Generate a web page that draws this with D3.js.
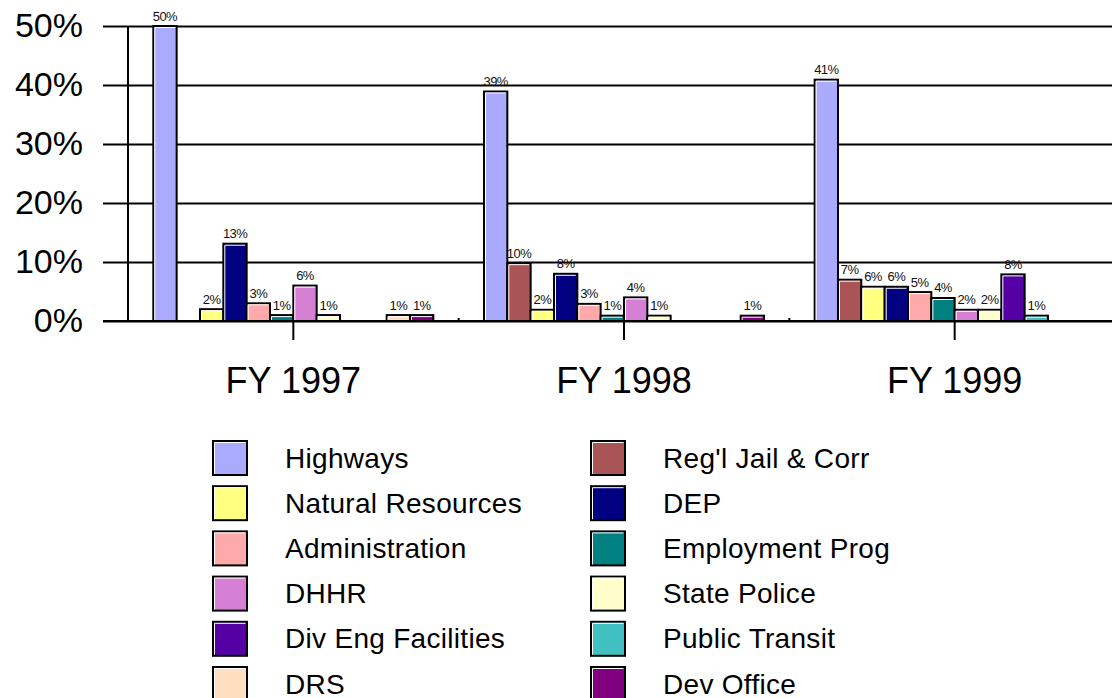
<!DOCTYPE html>
<html>
<head>
<meta charset="utf-8">
<script src="https://d3js.org/d3.v7.min.js"></script>
<style>
  body { margin: 0; background: #fff; }
  svg { display: block; font-family: "Liberation Sans", Arial, sans-serif; }
</style>
</head>
<body>
<svg width="1112" height="698"></svg>
<script>
// categories and series
let years = ["FY 1997", "FY 1998", "FY 1999"];
let series = ["Highways", "Reg'l Jail & Corr", "Natural Resources", "DEP",
              "Administration", "Employment Prog", "DHHR", "State Police",
              "Div Eng Facilities", "Public Transit", "DRS", "Dev Office"];
let colors = ["#aaaaff", "#aa5555", "#ffff80", "#000080",
              "#ffaaaa", "#008080", "#d580d5", "#ffffcc",
              "#5500a5", "#40c0c0", "#ffdfbf", "#800080"];

// share of total (%), one value per series, in series order
let fy1997 = [50, 0, 2, 13.1, 3, 1, 6, 1, 0, 0, 1, 1];
let fy1998 = [38.9, 9.8, 1.9, 8, 2.9, 0.9, 4, 0.9, 0, 0, 0, 0.9];
let fy1999 = [40.9, 7, 5.8, 5.8, 4.9, 3.9, 1.9, 1.9, 7.9, 0.9, 0, 0];
let yTicks = [0, 10, 20, 30, 40, 50];

let byYear = [fy1997, fy1998, fy1999];
let data = years.map((yr, i) => ({
  year: yr,
  bars: series.map((s, j) => ({ name: s, value: byYear[i][j], color: colors[j] }))
}));

let width = 1112;
let height = 698;
let svg = d3.select("svg");

let yScale = d3.scaleLinear()
               .domain([0, 50])
               .range([321, 26]);

let xScale = d3.scaleBand()
               .domain(years)
               .range([128, 1120]);

let x1 = d3.scaleBand()
           .domain(series)
           .range([0, xScale.bandwidth()])
           .paddingOuter(1.085);

// gridlines + y tick labels
let yAxis = svg.append("g")
   .attr("transform", "translate(103,0)")
   .call(d3.axisLeft(yScale)
           .tickValues(yTicks)
           .tickSize(-(width - 103))
           .tickPadding(20)
           .tickFormat(d => d + "%"));
yAxis.select(".domain").remove();
yAxis.selectAll(".tick line").attr("stroke", "#000").attr("stroke-width", 2);
yAxis.selectAll(".tick text")
     .attr("font-size", 34)
     .attr("fill", "#000")
     .attr("font-family", "Liberation Sans, Arial, sans-serif");

// y axis line
svg.append("line")
   .attr("x1", 128).attr("x2", 128)
   .attr("y1", yScale(50)).attr("y2", yScale(0))
   .attr("stroke", "#000").attr("stroke-width", 2);

// x axis
let xAxis = svg.append("g")
   .attr("transform", `translate(0,${yScale(0)})`)
   .call(d3.axisBottom(xScale).tickSize(19).tickPadding(27));
xAxis.select(".domain").remove();
xAxis.selectAll(".tick line").attr("stroke", "#000").attr("stroke-width", 2);
xAxis.selectAll(".tick text")
     .attr("font-size", 36)
     .attr("fill", "#000")
     .attr("font-family", "Liberation Sans, Arial, sans-serif");

// small marks at the group boundaries
svg.selectAll(".sep")
   .data(years.slice(1))
   .enter().append("line")
     .attr("x1", d => xScale(d)).attr("x2", d => xScale(d))
     .attr("y1", yScale(0) - 3).attr("y2", yScale(0))
     .attr("stroke", "#000").attr("stroke-width", 2);

// bars
let groups = svg.selectAll(".grp")
   .data(data)
   .enter().append("g")
     .attr("transform", d => `translate(${xScale(d.year)},0)`);

let bars = groups.selectAll(".bar")
   .data(d => d.bars.filter(b => b.value > 0))
   .enter().append("g");

bars.append("rect")
    .attr("x", d => x1(d.name))
    .attr("y", d => yScale(d.value))
    .attr("width", x1.bandwidth())
    .attr("height", d => yScale(0) - yScale(d.value))
    .attr("fill", d => d.color)
    .attr("stroke", "#000")
    .attr("stroke-width", 2);

// white inner highlight on top and left edges
bars.append("path")
    .attr("d", d => {
      let x = x1(d.name), y = yScale(d.value), h = yScale(0) - y, w = x1.bandwidth();
      return `M${x + 1.5},${y + h - 1}V${y + 1.5}H${x + w - 1.5}`;
    })
    .attr("fill", "none")
    .attr("stroke", "#fff")
    .attr("stroke-width", 1);

bars.append("text")
    .attr("x", d => x1(d.name) + x1.bandwidth() / 2)
    .attr("y", d => yScale(d.value) - 5.5)
    .attr("text-anchor", "middle")
    .attr("font-size", 13)
    .attr("letter-spacing", -0.6)
    .attr("fill", "#111")
    .text(d => Math.round(d.value) + "%");

// x axis line drawn last so it sits on the bar bottoms
svg.append("line")
   .attr("x1", 103).attr("x2", width)
   .attr("y1", yScale(0)).attr("y2", yScale(0))
   .attr("stroke", "#000").attr("stroke-width", 2);

// legend: two columns, row-major order
let legend = svg.selectAll(".leg")
   .data(series)
   .enter().append("g")
     .attr("transform", (d, i) => `translate(${i % 2 ? 590 : 212},${440 + Math.floor(i / 2) * 45.2})`);

legend.append("rect")
      .attr("x", 1).attr("y", 1)
      .attr("width", 34).attr("height", 34)
      .attr("fill", (d, i) => colors[i])
      .attr("stroke", "#000")
      .attr("stroke-width", 2);

legend.append("path")
      .attr("d", "M2.5,34V2.5H33.5")
      .attr("fill", "none")
      .attr("stroke", "#fff")
      .attr("stroke-width", 1);

legend.append("text")
      .attr("x", 73)
      .attr("y", 27.5)
      .attr("font-size", 28)
      .attr("letter-spacing", 0.3)
      .attr("fill", "#000")
      .text(d => d);
</script>
</body>
</html>
